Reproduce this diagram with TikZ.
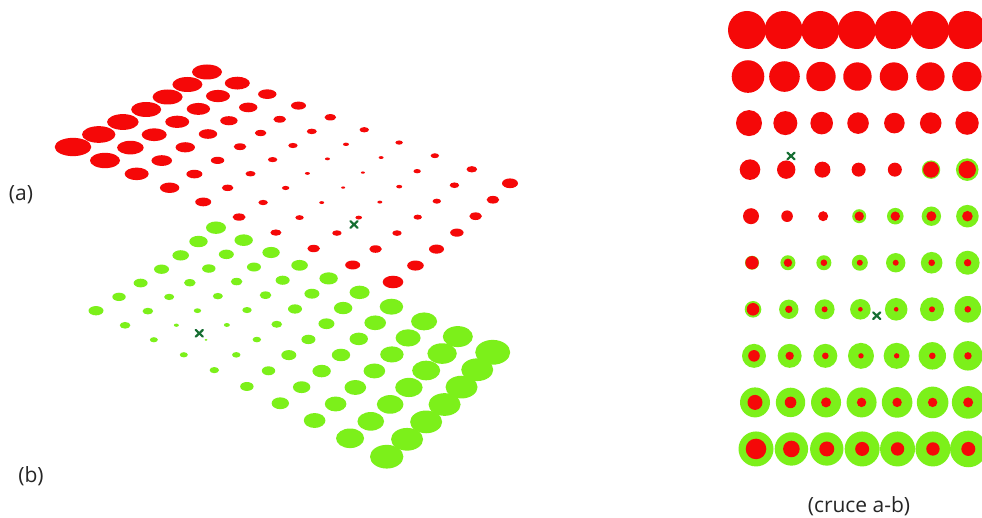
\documentclass[tikz,border=0pt]{standalone}
\usepackage{fontspec}
\setmainfont{Open Sans}
\definecolor{dotred}{RGB}{245,8,8}
\definecolor{dotgreen}{RGB}{124,240,26}
\definecolor{xgreen}{RGB}{22,110,50}
\tikzset{
  xmk/.style={xgreen, line width=2.2pt, line cap=round},
  lbl/.style={inner sep=0pt, font=\fontsize{21}{24}\selectfont, text=black!85}
}
\begin{document}
\begin{tikzpicture}[x=1pt,y=-1pt]
\useasboundingbox (0,0) rectangle (982,518);
\fill[white] (0,0) rectangle (982,518);
\def\ulist{{0,0.1,0.199,0.302,0.407,0.519,0.634,0.752,0.874,1}}
\def\vlist{{0,0.192,0.372,0.546,0.706,0.854,1}}
% ---- (a) red layer in perspective
\foreach \row [count=\i from 0] in {
 {18.3,16.7,15.8,15,15,15,15},
 {15,13.3,12.5,12,11.7,12,12.5},
 {12,10.3,9.7,9.2,8.7,9.2,9.2},
 {9.7,8,6.7,6.3,5.8,6.3,7.5},
 {8,5.8,5,4.7,4.7,5,5.8},
 {6.5,4.7,3.7,2.5,2.5,3,4.7},
 {5.5,4.2,2.5,2,2,2.5,3.7},
 {6.3,4.7,3.3,2.5,3,3.7,4.2},
 {7.5,6.3,4.7,4.2,4.2,4.7,5.3},
 {10.3,8.3,7.5,6.7,6.3,6.3,8}}{
  \foreach \rad [count=\j from 0] in \row {
    \pgfmathsetmacro\uu{\ulist[\i]}
    \pgfmathsetmacro\vx{\vlist[\j]}
    \pgfmathsetmacro\vy{\j/6}
    \pgfmathsetmacro\px{(1-\uu)*((1-\vx)*73+\vx*207)+\uu*((1-\vx)*393+\vx*510)}
    \pgfmathsetmacro\py{(1-\uu)*((1-\vy)*147+\vy*72)+\uu*((1-\vy)*282+\vy*183.3)}
    \pgfmathsetmacro\ry{\rad*(0.5+0.012*\i)}
    \fill[dotred] (\px,\py) ellipse [x radius=\rad pt, y radius=\ry pt];
  }
}
% ---- (b) green layer in perspective
\foreach \row [count=\i from 0] in {
 {7.5,6.7,7,7.5,8.3,9.2,10},
 {5.3,5.3,5,5.8,6.7,7.5,9.2},
 {4,2.5,3.7,5,5.8,7,8.7},
 {4,1.5,3,4.7,5.8,7,8.3},
 {4.7,4.2,4.2,5.3,7,7.5,9.2},
 {6.7,6.7,7.5,7,8,9.2,10},
 {8.7,8.7,9.2,9.2,9.2,10.8,11.7},
 {10.8,10.8,10.8,10.8,11.7,12.5,13},
 {14,13.3,13.3,13.7,14,14.7,15},
 {16.7,16,16,16,16,16,17.5}}{
  \foreach \rad [count=\j from 0] in \row {
    \pgfmathsetmacro\uu{\ulist[\i]}
    \pgfmathsetmacro\vx{\vlist[\j]}
    \pgfmathsetmacro\vy{\j/6}
    \pgfmathsetmacro\px{(1-\uu)*((1-\vx)*96+\vx*216)+\uu*((1-\vx)*386.7+\vx*492.7)}
    \pgfmathsetmacro\py{(1-\uu)*((1-\vy)*310.7+\vy*227.7)+\uu*((1-\vy)*456.7+\vy*352.3)}
    \pgfmathsetmacro\ry{\rad*(0.62+0.01*\i)}
    \fill[dotgreen] (\px,\py) ellipse [x radius=\rad pt, y radius=\ry pt];
  }
}
% ---- (cruce a-b): green underneath
\foreach \row [count=\i from 0] in {
 {0,0,0,0,0,0,0},
 {0,0,0,0,0,0,0},
 {0,0,0,0,0,0,0},
 {0,0,0,0,0,9.2,11.3},
 {0,0,0,7,8.3,9.7,11.3},
 {7,7.5,7.5,8,9.7,10.8,12},
 {8.3,9.7,10,10.3,11.3,12,13.3},
 {12,12,12,13,13,13.7,14.7},
 {15,14.7,15,15,15.3,15.8,16.3},
 {17.5,16.7,16.7,17.5,17.5,17.5,18.3}}{
  \foreach \rad [count=\j from 0] in \row {
    \pgfmathsetmacro\px{747+\i+(219.7-0.82*\i)*\j/6}
    \pgfmathsetmacro\py{30+46.55*\i}
    \fill[dotgreen] (\px,\py) circle [radius=\rad pt];
  }
}
% ---- (cruce a-b): red on top
\foreach \row [count=\i from 0] in {
 {19,19,19,19,19,19,19},
 {16.3,15.3,14.7,14.2,14.2,14.2,14.7},
 {13,12,11.3,10.8,10.3,10.8,11.7},
 {10.3,9.2,8,7,7,8,8.7},
 {8,5.8,5,4.7,4.7,5,5.3},
 {6.7,4.2,3.3,3,3,3.3,3.7},
 {6.3,3.7,3,2.3,2.3,3,3.3},
 {5.8,4.2,3.3,2.7,2.7,3.3,3.7},
 {7.5,5.8,5,4.7,4.7,4.7,5},
 {10.3,8.3,7.5,7,6.7,6.7,7}}{
  \foreach \rad [count=\j from 0] in \row {
    \pgfmathsetmacro\px{747+\i+(219.7-0.82*\i)*\j/6}
    \pgfmathsetmacro\py{30+46.55*\i}
    \fill[dotred] (\px,\py) circle [radius=\rad pt];
  }
}
% ---- cross markers
\coordinate (xa) at (354,224.5);
\coordinate (xb) at (199.3,333.3);
\coordinate (xc) at (791,156);
\coordinate (xd) at (876.7,315.7);
\foreach \c in {xa,xb,xc,xd}{
  \draw[xmk] (\c) ++(-3.6,-3.4) -- ++(7.2,6.8) ++(0,-6.8) -- ++(-7.2,6.8);
}
% ---- labels
\node[lbl] (la) at (21,195) {(a)};
\node[lbl] (lb) at (31,476) {(b)};
\node[lbl] (lc) at (859,506.5) {(cruce a-b)};
\end{tikzpicture}
\end{document}
